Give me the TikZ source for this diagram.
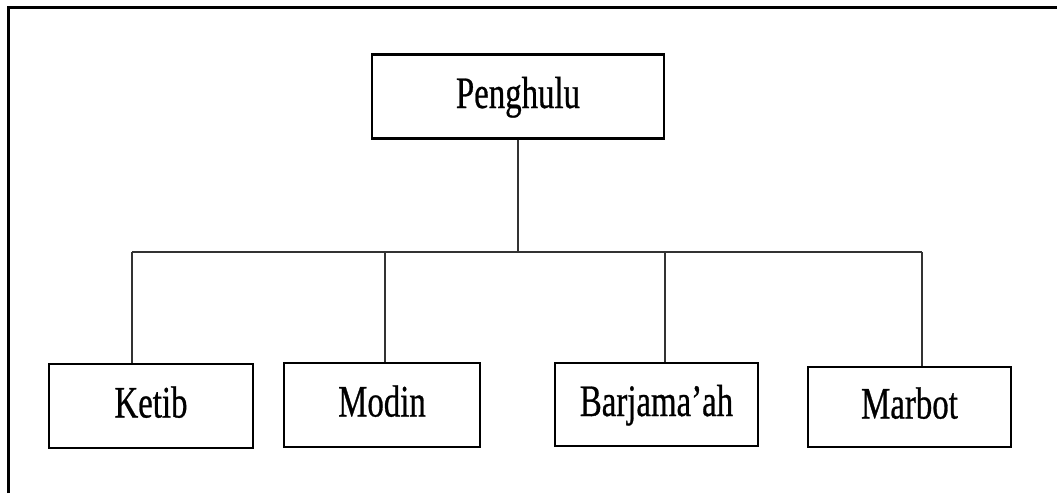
\documentclass[tikz,border=0pt]{standalone}
\usepackage{fontspec}
\setmainfont{Liberation Serif}[FakeStretch=0.73, FakeBold=0.6]
\usepackage{tikz}
\usetikzlibrary{positioning}

\begin{document}
\begin{tikzpicture}[x=1pt, y=-1pt,
		box/.style={draw, line width=2.2pt, inner sep=0pt, minimum height=84pt,
			text height=32pt, text depth=9pt, font=\fontsize{45}{45}\selectfont},
		link/.style={line width=1.2pt, black!80}]
		\useasboundingbox (0,0) rectangle (1057,493);
		\draw[line width=3pt] (8,493) -- (8,7) -- (1057,7);
		\node[box, minimum width=292pt] (pen) at (518,96.5) {Penghulu};
		\node[box, minimum width=204pt] (ketib) at (151,406) {Ketib};
		\node[box, minimum width=196pt] (modin) at (382,405) {Modin};
		\node[box, minimum width=203pt, minimum height=83pt] (barj) at (656.5,404.5) {Barjama’ah};
		\node[box, minimum width=203pt, minimum height=80pt] (marb) at (909.5,407) {Marbot};
		\coordinate (kd) at (132,252);
		\coordinate (md) at (385,252);
		\coordinate (bd) at (665,252);
		\coordinate (rd) at (922,252);
		\draw[link] (pen.south) -- (pen.south |- kd);
		\draw[link] (kd) -- (rd);
		\draw[link] (kd) -- (kd |- ketib.north);
		\draw[link] (md) -- (md |- modin.north);
		\draw[link] (bd) -- (bd |- barj.north);
		\draw[link] (rd) -- (rd |- marb.north);
	\end{tikzpicture}
\end{document}
